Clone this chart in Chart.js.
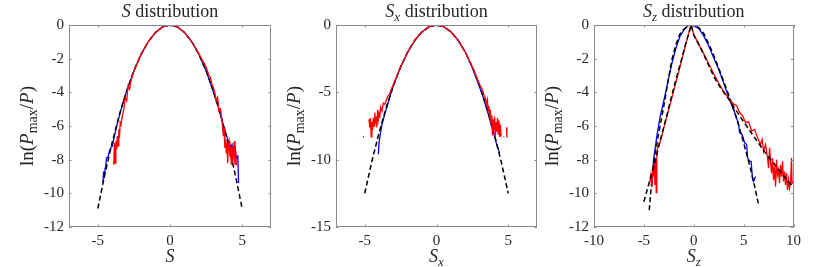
<!DOCTYPE html>
<html>
<head>
<meta charset="utf-8">
<script src="https://cdn.jsdelivr.net/npm/chart.js@4.4.1/dist/chart.umd.min.js"></script>
<style>
  body { margin: 0; background: #fff; width: 830px; height: 267px; position: relative; overflow: hidden; }
  canvas { position: absolute; top: 0; }
</style>
</head>
<body>
<canvas id="c1" width="272" height="267" style="left:9px"></canvas>
<canvas id="c2" width="271" height="267" style="left:276px"></canvas>
<canvas id="c3" width="272" height="267" style="left:534px"></canvas>
<script>
// ---- S distribution ----
const sFitX = [-5,-4.5,-4,-3.5,-3,-2.5,-2,-1.5,-1,-0.5,0,0.5,1,1.5,2,2.5,3,3.5,4,4.5,5];
const sFitY = [-10.9,-8.8,-6.95,-5.3,-3.9,-2.7,-1.74,-0.98,-0.44,-0.11,0,-0.11,-0.44,-0.98,-1.74,-2.7,-3.9,-5.3,-6.95,-8.8,-10.9];
const sBlueX = [-4.65,-4.6,-4.55,-4.5,-4.45,-4.4,-4.3,-4.2,-4.1,-4.0,-3.9,-3.75,-3.5,-3.25,-3,-2.5,-2,-1.5,-1,-0.5,0,0.5,1,1.5,2,2.5,3,3.25,3.5,3.75,3.9,4.0,4.1,4.2,4.3,4.4,4.5,4.6,4.7,4.75,4.8];
const sBlueY = [-9.35,-8.7,-9.1,-8.5,-8.3,-7.9,-7.85,-7.5,-7.3,-7.2,-6.8,-6.2,-5.35,-4.6,-3.92,-2.72,-1.74,-0.98,-0.44,-0.1,0,-0.1,-0.44,-0.98,-1.74,-2.72,-3.95,-4.6,-5.35,-6.1,-6.5,-6.8,-7.0,-7.3,-7.1,-7.6,-7.2,-7.9,-7.8,-9.35,-9.35];
const sRedX = [-3.9,-3.85,-3.8,-3.75,-3.7,-3.65,-3.6,-3.55,-3.5,-3.45,-3.4,-3.3,-3.2,-3.1,-3,-2.9,-2.8,-2.7,-2.6,-2.5,-2,-1.5,-1,-0.5,0,0.5,1,1.5,2,2.5,2.6,2.7,2.8,2.9,3,3.1,3.2,3.3,3.4,3.5,3.6,3.7,3.75,3.8,3.85,3.9,3.95,4,4.05,4.1,4.15,4.2,4.25,4.3,4.35,4.4,4.45,4.5,4.55,4.6,4.65];
const sRedY = [-8.3,-7.0,-8.2,-6.9,-7.4,-6.6,-7.2,-6.2,-6.7,-5.8,-5.9,-5.4,-5.0,-4.3,-4.5,-3.6,-3.8,-3.3,-3.0,-2.75,-1.74,-0.98,-0.44,-0.1,0,-0.1,-0.44,-0.98,-1.7,-2.5,-2.75,-3.0,-3.1,-3.5,-3.7,-4.0,-4.5,-4.3,-5.1,-5.0,-5.7,-6.6,-6.1,-7.3,-6.8,-7.6,-7.0,-8.2,-7.1,-6.9,-7.8,-7.3,-8.3,-7.2,-8.2,-7.6,-6.9,-8.3,-7.5,-8.3,-8.3];

// ---- Sx distribution ----
const sxFitX = [-5,-4.5,-4,-3.5,-3,-2.5,-2,-1.5,-1,-0.5,0,0.5,1,1.5,2,2.5,3,3.5,4,4.5,5];
const sxFitY = [-12.5,-10.12,-8,-6.12,-4.5,-3.12,-2,-1.12,-0.5,-0.12,0,-0.12,-0.5,-1.12,-2,-3.12,-4.5,-6.12,-8,-10.12,-12.5];
const sxBlueX = [-4.05,-4.0,-3.9,-3.8,-3.6,-3.4,-3.2,-3,-2.5,-2,-1.5,-1,-0.5,0,0.5,1,1.5,2,2.5,3,3.2,3.4,3.6,3.8,4.0,4.1,4.2,4.3,4.4];
const sxBlueY = [-9.6,-8.7,-8.0,-7.4,-6.6,-5.9,-5.15,-4.5,-3.12,-2,-1.12,-0.5,-0.12,0,-0.12,-0.5,-1.12,-2,-3.2,-4.6,-5.2,-5.9,-6.6,-7.4,-8.1,-8.5,-8.9,-9.2,-9.5];
const sxRedX = [-5.12,-5.05,-5.0,-4.7,-4.65,-4.6,-4.55,-4.5,-4.45,-4.4,-4.35,-4.3,-4.25,-4.2,-4.15,-4.1,-4.05,-4.0,-3.95,-3.9,-3.8,-3.7,-3.6,-3.5,-3.4,-3.3,-3.2,-3,-2.5,-2,-1.5,-1,-0.5,0,0.5,1,1.5,2,2.5,3,3.2,3.3,3.4,3.5,3.55,3.6,3.65,3.7,3.75,3.8,3.85,3.9,3.95,4.0,4.05,4.1,4.15,4.2,4.25,4.3,4.35,4.4,4.45,4.5,4.55,4.6,4.67,4.72,4.85,4.88,4.9,4.95];
const sxRedY = [-8.3,-8.3,null,-7.0,-7.6,-6.9,-8.3,-7.2,-7.8,-6.9,-7.5,-6.5,-7.3,-6.8,-7.6,-6.3,-7.0,-6.6,-6.9,-6.1,-6.4,-5.8,-5.9,-5.6,-5.3,-5.2,-4.9,-4.4,-3.1,-2,-1.1,-0.5,-0.12,0,-0.12,-0.5,-1.12,-2,-3.1,-4.4,-4.8,-5.2,-5.4,-5.9,-5.6,-6.4,-6.0,-6.9,-6.3,-7.3,-6.7,-8.2,-7.0,-7.8,-6.8,-8.3,-7.2,-7.9,-6.9,-8.1,-7.1,-8.3,-7.4,-8.3,-8.3,null,-8.3,-8.3,null,-7.6,-8.3,-8.3];

// ---- Sz distribution ----
const szBlueFitX = [-4.46,-4.25,-4.0,-3.6,-3.2,-2.9,-2.6,-2.2,-1.8,-1.4,-1.0,-0.5,-0.25,0,0.5,1,1.5,2,2.5,3,3.5,4,4.5,5,5.5,6,6.47];
const szBlueFitY = [-11.0,-9.5,-8.1,-6.7,-5.45,-4.5,-3.4,-2.08,-1.2,-0.55,-0.25,-0.03,0,-0.03,-0.15,-0.5,-1.1,-1.8,-2.55,-3.35,-4.15,-5.0,-5.95,-7.0,-8.1,-9.3,-10.6];
const szRedFitX = [-5,-4.25,-3.75,-3.25,-2.75,-2.25,-1.75,-1.25,-0.75,-0.5,-0.25,0,0.5,1,1.5,2,2.5,3,3.5,4,5,6,7,8,9,10];
const szRedFitY = [-10.5,-8.9,-7.8,-6.6,-5.5,-4.3,-3.15,-2.1,-1.0,-0.5,0,-0.6,-1.15,-1.75,-2.4,-3.05,-3.55,-4.0,-4.4,-4.85,-5.75,-6.6,-7.45,-8.2,-8.95,-9.65];
const szBlueX = [-4.2,-4.1,-4.03,-3.7,-3.37,-3.0,-2.6,-2.2,-1.8,-1.4,-1.0,-0.6,-0.4,0,0.5,1,1.5,2,2.5,3,3.5,4,4.2,4.5,4.6,4.75,4.9,5.1,5.3,5.4,5.5,5.6,5.75,5.9,6.0,6.1,6.2];
const szBlueY = [-9.6,-8.7,-8.0,-6.6,-5.45,-4.5,-3.4,-2.3,-1.4,-0.7,-0.3,-0.05,0,-0.05,-0.2,-0.65,-1.25,-1.95,-2.65,-3.45,-4.3,-5.05,-5.35,-5.9,-6.4,-6.45,-6.6,-7.0,-7.1,-7.9,-8.0,-8.1,-8.1,-9.2,-9.3,-9.15,-9.0];
const szRedX = [-4.4,-4.3,-4.2,-4.1,-4.0,-3.95,-3.9,-3.85,-3.8,-3.76,-3.7,-3.6,-3.4,-3.2,-3.0,-2.5,-2.0,-1.5,-1.0,-0.5,-0.3,0,0.5,1,1.5,2,2.5,3,3.5,4,4.3,4.6,4.9,5.2,5.5,5.8,6.1,6.4,6.7,6.85,7.0,7.2,7.4,7.5,7.6,7.7,7.8,7.9,8.0,8.1,8.2,8.3,8.4,8.5,8.6,8.7,8.8,8.9,9.0,9.1,9.2,9.3,9.4,9.5,9.6,9.7,9.8,9.85,10];
const szRedY = [-9.3,-8.9,-9.6,-8.6,-9.0,-8.2,-9.5,-8.0,-8.4,-9.96,-7.6,-7.1,-7.0,-6.6,-6.1,-5.0,-3.9,-2.75,-1.6,-0.5,0,-0.55,-1.15,-1.7,-2.3,-2.9,-3.45,-3.95,-4.35,-4.7,-4.8,-5.2,-5.4,-5.8,-5.75,-6.3,-6.2,-6.7,-7.1,-6.8,-7.5,-7.1,-7.9,-8.5,-7.3,-8.1,-8.8,-7.9,-9.2,-8.4,-9.6,-8.0,-8.9,-8.6,-9.4,-8.3,-9.0,-8.1,-9.3,-8.7,-9.5,-8.8,-9.8,-9.2,-9.7,-9.4,-7.9,-9.4,-9.3];

// ---- ticks ----
const xTicks12 = [-5, 0, 5];
const xTicks3 = [-10, -5, 0, 5, 10];
const yTicks13 = [0, -2, -4, -6, -8, -10, -12];
const yTicks2 = [0, -5, -10, -15];

const FONT = "'Liberation Serif', 'Times New Roman', serif";
const TXT = '#262626';

function pts(xs, ys) {
  return xs.map((x, i) => ({ x: x, y: ys[i] }));
}

function drawRich(ctx, segs, cx, cy, size, rotate) {
  const fontOf = s => {
    const sub = s[1][0] === 's';
    const it = s[1].indexOf('i') >= 0;
    return (it ? 'italic ' : '') + Math.round(sub ? size * 0.72 : size) + 'px ' + FONT;
  };
  let total = 0;
  segs.forEach(s => { ctx.font = fontOf(s); total += ctx.measureText(s[0]).width; });
  ctx.save();
  ctx.translate(cx, cy);
  if (rotate) ctx.rotate(-Math.PI / 2);
  ctx.fillStyle = TXT;
  ctx.textBaseline = 'alphabetic';
  ctx.textAlign = 'left';
  let x = -total / 2;
  segs.forEach(s => {
    ctx.font = fontOf(s);
    const dy = s[1][0] === 's' ? size * 0.22 : 0;
    ctx.fillText(s[0], x, size * 0.35 + dy);
    x += ctx.measureText(s[0]).width;
  });
  ctx.restore();
}

const deco = {
  id: 'deco',
  afterDraw(chart, args, o) {
    const { ctx, chartArea: a, scales } = chart;
    ctx.save();
    ctx.strokeStyle = '#8a8a8a';
    ctx.lineWidth = 1;
    ctx.strokeRect(Math.round(a.left) + 0.5, Math.round(a.top) + 0.5,
      Math.round(a.right - a.left) - 1, Math.round(a.bottom - a.top) - 1);
    const tl = 2.5;
    ctx.beginPath();
    o.xt.forEach(v => {
      const px = Math.round(scales.x.getPixelForValue(v)) + 0.5;
      ctx.moveTo(px, a.bottom); ctx.lineTo(px, a.bottom - tl);
      ctx.moveTo(px, a.top); ctx.lineTo(px, a.top + tl);
    });
    o.yt.forEach(v => {
      const py = Math.round(scales.y.getPixelForValue(v)) + 0.5;
      ctx.moveTo(a.left, py); ctx.lineTo(a.left + tl, py);
      ctx.moveTo(a.right, py); ctx.lineTo(a.right - tl, py);
    });
    ctx.stroke();
    ctx.restore();
    const cx = (a.left + a.right) / 2;
    drawRich(ctx, o.title, cx, 11, 18, false);
    drawRich(ctx, o.xlabel, cx, 256, 18, false);
    drawRich(ctx, o.ylabel, a.left - 43, (a.top + a.bottom) / 2, 19, true);
  }
};

function line(data, color, dashed, width) {
  return {
    data: data,
    showLine: true,
    borderColor: color,
    borderWidth: width,
    borderDash: dashed ? [5, 3] : [],
    pointRadius: 0,
    fill: false,
    spanGaps: false,
    tension: 0
  };
}

function makeChart(id, datasets, xr, yr, xt, yt, title, xlabel) {
  new Chart(document.getElementById(id), {
    type: 'scatter',
    data: { datasets: datasets },
    options: {
      responsive: false,
      animation: false,
      devicePixelRatio: 1,
      layout: { padding: { top: 25, right: 10, left: 0, bottom: 0 } },
      plugins: {
        legend: { display: false },
        tooltip: { enabled: false },
        deco: {
          title: title, xlabel: xlabel, xt: xt, yt: yt,
          ylabel: [['ln(', 'r'], ['P', 'i'], ['max', 'sr'], ['/', 'r'], ['P', 'i'], [')', 'r']]
        }
      },
      scales: {
        x: {
          type: 'linear', min: xr[0], max: xr[1],
          grid: { display: false, drawTicks: false, tickLength: 0 }, border: { display: false },
          ticks: { font: { family: FONT, size: 15 }, color: TXT, padding: 5, maxRotation: 0 },
          afterBuildTicks: s => { s.ticks = xt.map(v => ({ value: v })); },
          afterFit: s => { s.height = 40; }
        },
        y: {
          type: 'linear', min: yr[0], max: yr[1],
          grid: { display: false, drawTicks: false, tickLength: 0 }, border: { display: false },
          ticks: { font: { family: FONT, size: 15 }, color: TXT, padding: 5 },
          afterBuildTicks: s => { s.ticks = yt.map(v => ({ value: v })); },
          afterFit: s => { s.width = 60; }
        }
      }
    },
    plugins: [deco]
  });
}

const BLUE = '#0000ff', RED = '#ff0000', BLACK = '#000000';

makeChart('c1', [
  line(pts(sRedX, sRedY), RED, false, 1.3),
  line(pts(sFitX, sFitY), BLACK, true, 1.5),
  line(pts(sBlueX, sBlueY), BLUE, false, 1.3)
], [-7, 7], [-12, 0], xTicks12, yTicks13,
  [['S', 'i'], [' distribution', 'r']], [['S', 'i']]);

makeChart('c2', [
  line(pts(sxRedX, sxRedY), RED, false, 1.3),
  line(pts(sxFitX, sxFitY), BLACK, true, 1.5),
  line(pts(sxBlueX, sxBlueY), BLUE, false, 1.3)
], [-7, 7], [-15, 0], xTicks12, yTicks2,
  [['S', 'i'], ['x', 'si'], [' distribution', 'r']], [['S', 'i'], ['x', 'si']]);

makeChart('c3', [
  line(pts(szRedFitX, szRedFitY), BLACK, true, 1.5),
  line(pts(szRedX, szRedY), RED, false, 1.3),
  line(pts(szBlueFitX, szBlueFitY), BLACK, true, 1.5),
  line(pts(szBlueX, szBlueY), BLUE, false, 1.3)
], [-10, 10], [-12, 0], xTicks3, yTicks13,
  [['S', 'i'], ['z', 'si'], [' distribution', 'r']], [['S', 'i'], ['z', 'si']]);
</script>
</body>
</html>
